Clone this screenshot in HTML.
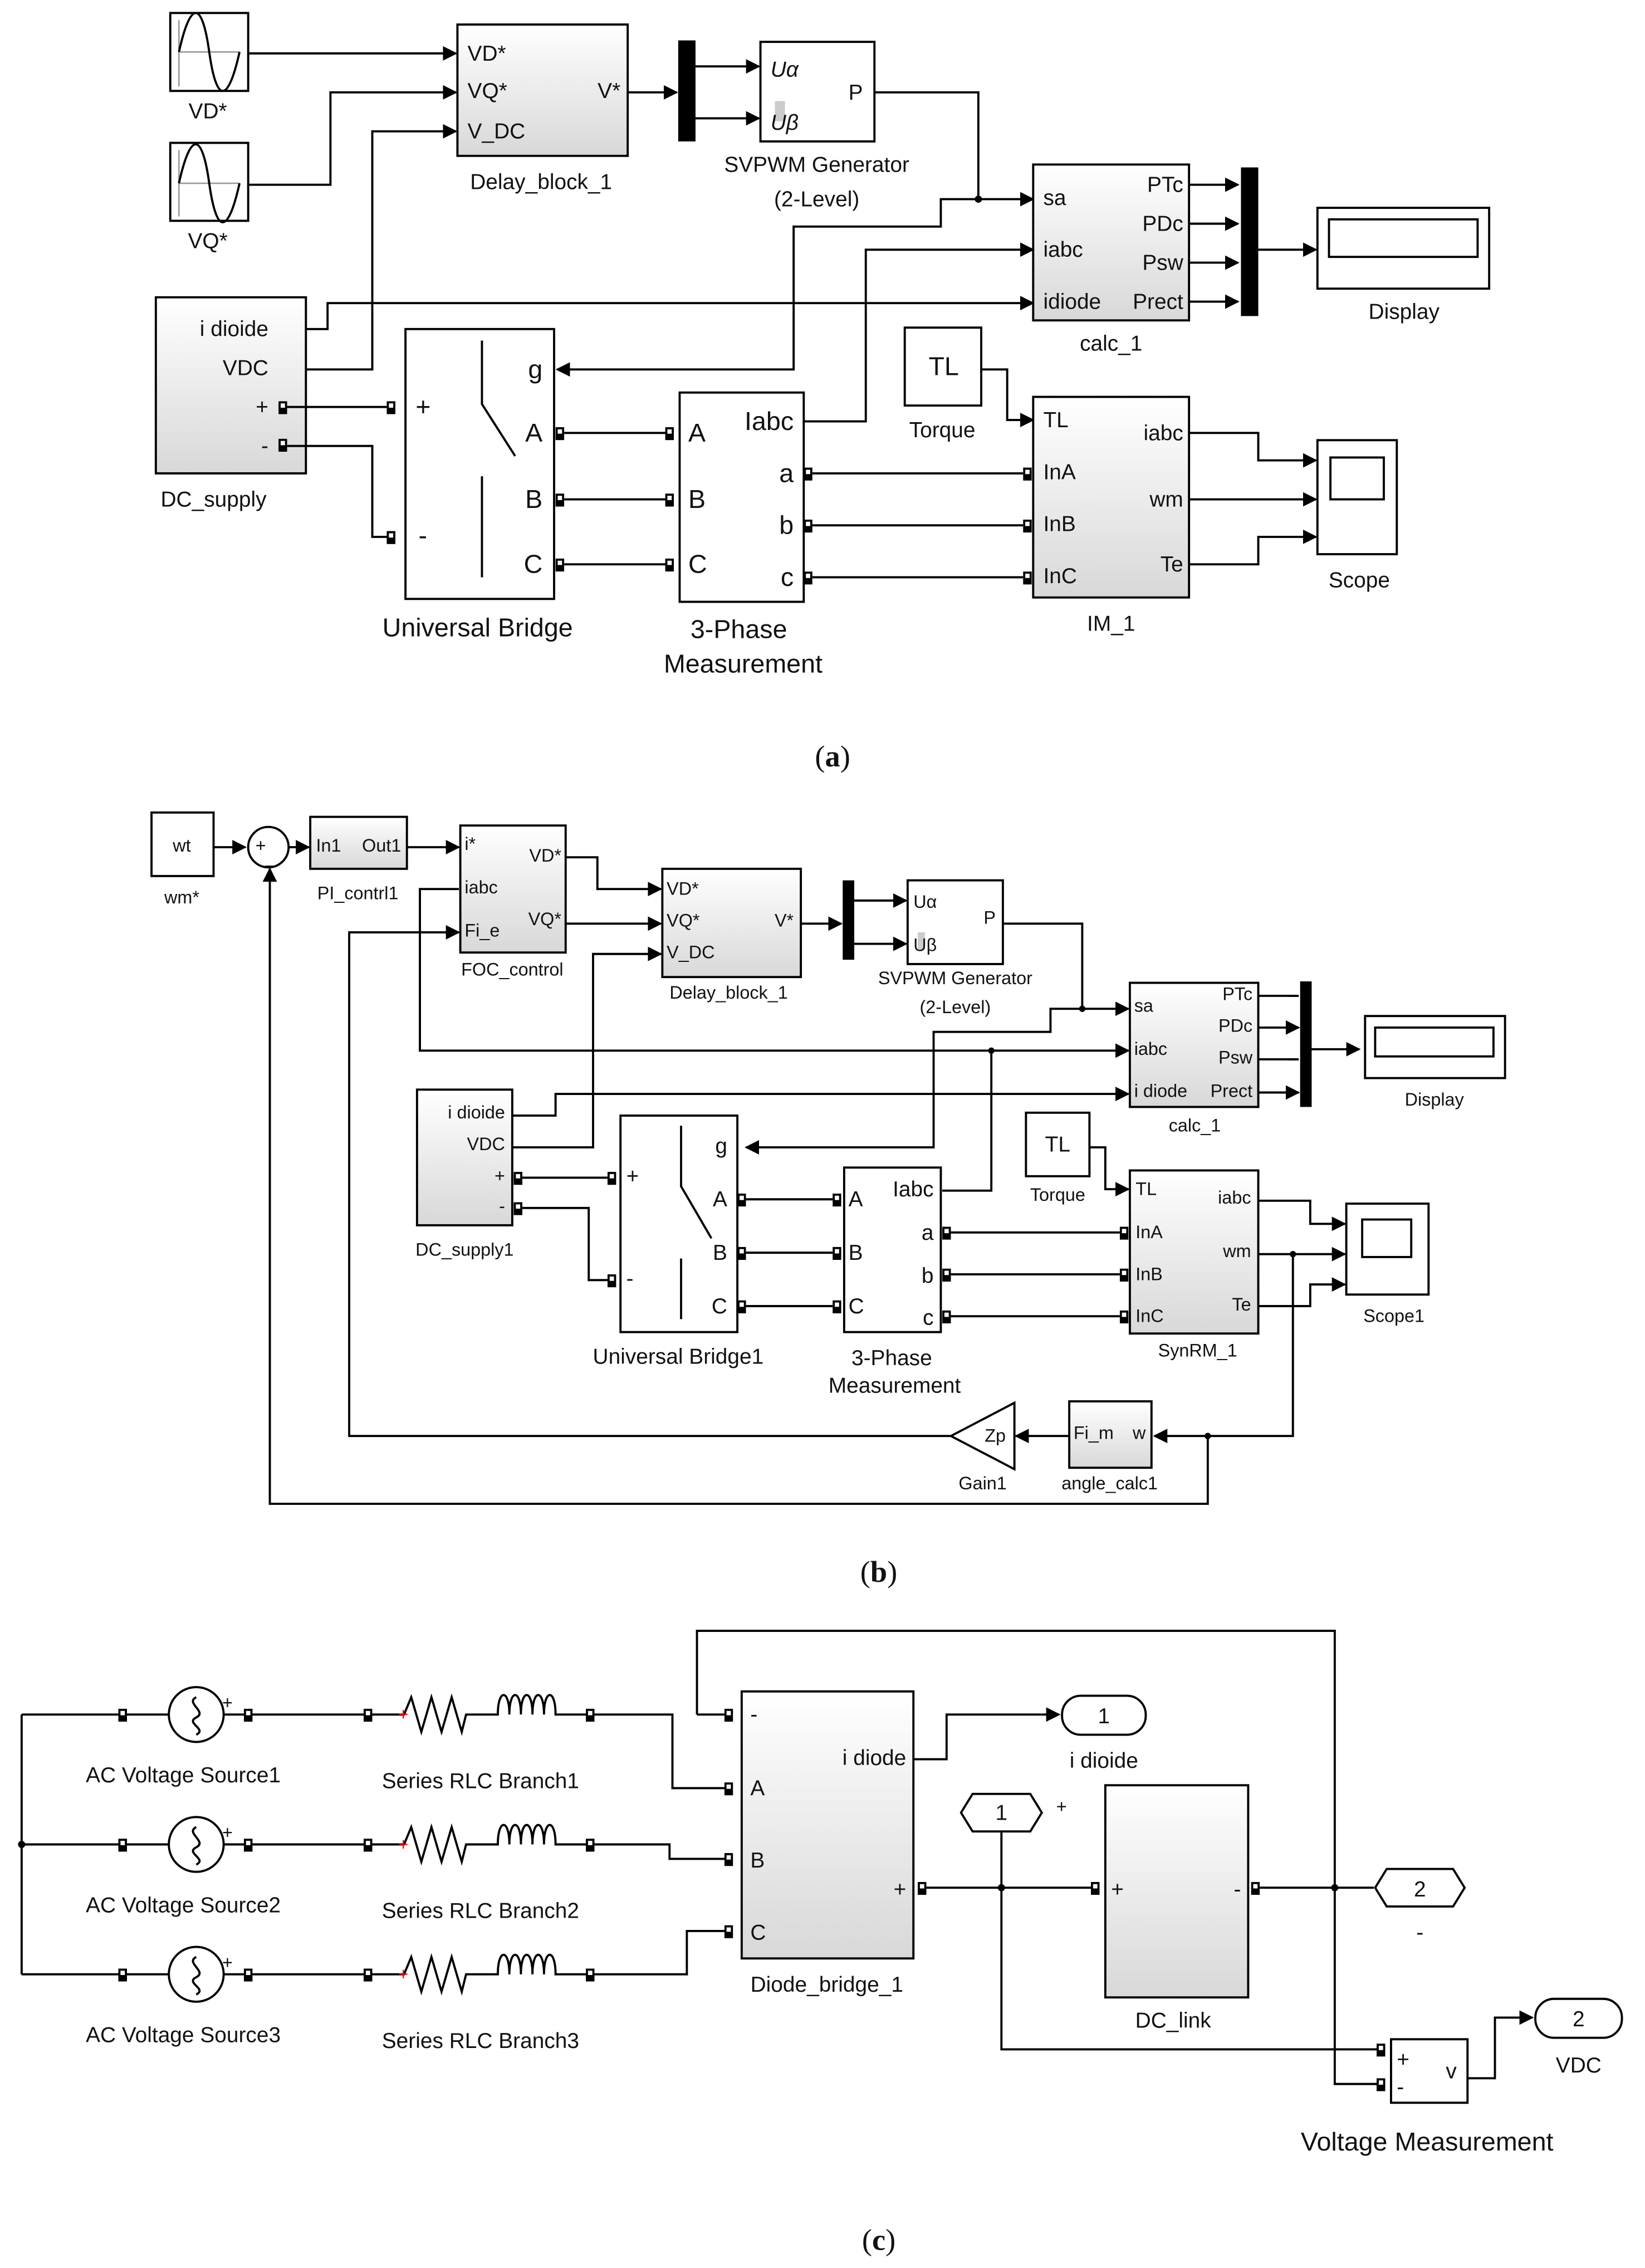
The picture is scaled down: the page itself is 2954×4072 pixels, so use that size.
<!DOCTYPE html>
<html><head><meta charset="utf-8">
<style>
html,body{margin:0;padding:0;background:#fff;}
svg{display:block;}
text{font-family:"Liberation Sans",sans-serif;fill:#111;}
.b{fill:url(#g);stroke:#000;stroke-width:1.5;}
.w{fill:#fff;stroke:#000;stroke-width:1.5;}
.l{fill:none;stroke:#000;stroke-width:1.5;}
.a{fill:none;stroke:#000;stroke-width:1.5;marker-end:url(#ar);}
.t{font-size:15px;}
.s{font-size:12.5px;}
.m{font-size:18px;}
</style></head>
<body>
<svg width="2954" height="4072" viewBox="0 0 1140 1571.5" preserveAspectRatio="none" xmlns="http://www.w3.org/2000/svg">
<defs>
<linearGradient id="g" x1="0" y1="0" x2="0" y2="1"><stop offset="0" stop-color="#ffffff"/><stop offset="1" stop-color="#d8d8d8"/></linearGradient>
<marker id="ar" markerWidth="10" markerHeight="10" refX="9" refY="5" orient="auto" markerUnits="userSpaceOnUse"><path d="M0,0 L10,5 L0,10 z" fill="#000"/></marker>
<symbol id="p" viewBox="0 0 6 9" width="6" height="9"><rect x="0" y="0" width="6" height="9" fill="#000"/><rect x="1.5" y="1.5" width="3" height="3" fill="#fff"/></symbol>
</defs>
<rect width="1140" height="1571.5" fill="#fff"/>

<!-- ================= (a) ================= -->
<rect x="118" y="9" width="54" height="54" class="w"/>
<path d="M124,36 H166 M124,14 V60" stroke="#999" stroke-width="1" fill="none"/>
<path d="M124,36 C132,0 140,0 145,36 C150,72 158,72 166,36" class="l"/>
<text x="144" y="82" class="t" text-anchor="middle">VD*</text>
<rect x="118" y="99" width="54" height="54" class="w"/>
<path d="M124,127 H166 M124,104 V150" stroke="#999" stroke-width="1" fill="none"/>
<path d="M124,127 C132,91 140,91 145,127 C150,163 158,163 166,127" class="l"/>
<text x="144" y="172" class="t" text-anchor="middle">VQ*</text>

<rect x="317" y="17" width="118" height="91" class="b"/>
<text x="324" y="42" class="t">VD*</text><text x="324" y="68" class="t">VQ*</text><text x="324" y="96" class="t">V_DC</text>
<text x="430" y="68" class="t" text-anchor="end">V*</text>
<text x="375" y="131" class="t" text-anchor="middle">Delay_block_1</text>
<path d="M172,37 H316" class="a"/>
<path d="M172,128 H229 V64 H316" class="a"/>
<path d="M187,256 H258 V91 H316" class="a"/>

<rect x="470" y="28" width="12" height="70" fill="#000"/>
<path d="M435,64 H469" class="a"/>
<path d="M482,46 H526" class="a"/><path d="M482,82 H526" class="a"/>
<rect x="527" y="29" width="79" height="69" class="w"/>
<text x="534" y="53" class="t" font-style="italic">Uα</text>
<rect x="537" y="70" width="7" height="14" fill="#ccc"/>
<text x="534" y="90" class="t" font-style="italic">Uβ</text>
<text x="598" y="69" class="t" text-anchor="end">P</text>
<text x="566" y="119" class="t" text-anchor="middle">SVPWM Generator</text>
<text x="566" y="143" class="t" text-anchor="middle">(2-Level)</text>
<path d="M606,64 H678 V138 H716" class="a"/>
<circle cx="678" cy="138" r="2.5"/>
<path d="M678,138 H652 V157 H550 V256 H386" class="a"/>

<rect x="716" y="114" width="108" height="108" class="b"/>
<text x="723" y="142" class="t">sa</text><text x="723" y="178" class="t">iabc</text><text x="723" y="214" class="t">idiode</text>
<text x="820" y="133" class="t" text-anchor="end">PTc</text><text x="820" y="160" class="t" text-anchor="end">PDc</text>
<text x="820" y="187" class="t" text-anchor="end">Psw</text><text x="820" y="214" class="t" text-anchor="end">Prect</text>
<text x="770" y="243" class="t" text-anchor="middle">calc_1</text>
<path d="M824,128 H858" class="a"/><path d="M824,155 H858" class="a"/><path d="M824,182 H858" class="a"/><path d="M824,209 H858" class="a"/>
<rect x="860" y="116" width="12" height="103" fill="#000"/>
<path d="M872,173 H912" class="a"/>
<rect x="913" y="144" width="119" height="56" class="w"/>
<rect x="921" y="152" width="103" height="26" class="w"/>
<text x="973" y="221" class="t" text-anchor="middle">Display</text>

<rect x="108" y="206" width="104" height="122" class="b"/>
<text x="186" y="233" class="t" text-anchor="end">i dioide</text>
<text x="186" y="260" class="t" text-anchor="end">VDC</text>
<text x="186" y="287" class="t" text-anchor="end">+</text>
<text x="186" y="314" class="t" text-anchor="end">-</text>
<text x="148" y="351" class="t" text-anchor="middle">DC_supply</text>
<path d="M212,228 H227 V210 H716" class="a"/>
<use href="#p" x="193" y="278"/><use href="#p" x="193" y="304"/>

<rect x="281" y="228" width="103" height="187" class="w"/>
<text x="288" y="288" class="m">+</text><text x="290" y="377" class="m">-</text>
<text x="376" y="262" class="m" text-anchor="end">g</text>
<text x="376" y="306" class="m" text-anchor="end">A</text>
<text x="376" y="352" class="m" text-anchor="end">B</text>
<text x="376" y="397" class="m" text-anchor="end">C</text>
<path d="M334,236 V280 L357,316 M334,330 V400" class="l"/>
<text x="331" y="441" class="m" text-anchor="middle">Universal Bridge</text>
<use href="#p" x="268" y="278"/><use href="#p" x="268" y="368"/>
<path d="M199,282 H268" class="l"/>
<path d="M199,309 H258 V372 H268" class="l"/>
<use href="#p" x="385" y="296"/><use href="#p" x="385" y="342"/><use href="#p" x="385" y="387"/>
<use href="#p" x="461" y="296"/><use href="#p" x="461" y="342"/><use href="#p" x="461" y="387"/>
<path d="M391,300 H461 M391,346 H461 M391,391 H461" class="l"/>

<rect x="471" y="272" width="86" height="145" class="w"/>
<text x="477" y="306" class="m">A</text><text x="477" y="352" class="m">B</text><text x="477" y="397" class="m">C</text>
<text x="550" y="298" class="m" text-anchor="end">Iabc</text>
<text x="550" y="334" class="m" text-anchor="end">a</text>
<text x="550" y="370" class="m" text-anchor="end">b</text>
<text x="550" y="406" class="m" text-anchor="end">c</text>
<text x="512" y="442" class="m" text-anchor="middle">3-Phase</text>
<text x="515" y="466" class="m" text-anchor="middle">Measurement</text>
<path d="M557,292 H600 V173 H716" class="a"/>
<use href="#p" x="557" y="324"/><use href="#p" x="557" y="360"/><use href="#p" x="557" y="396"/>
<use href="#p" x="709" y="324"/><use href="#p" x="709" y="360"/><use href="#p" x="709" y="396"/>
<path d="M563,328 H709 M563,364 H709 M563,400 H709" class="l"/>

<rect x="627" y="227" width="53" height="54" class="w"/>
<text x="654" y="260" class="m" text-anchor="middle">TL</text>
<text x="653" y="303" class="t" text-anchor="middle">Torque</text>
<path d="M680,256 H698 V291 H716" class="a"/>

<rect x="716" y="275" width="108" height="139" class="b"/>
<text x="723" y="296" class="t">TL</text><text x="723" y="332" class="t">InA</text>
<text x="723" y="368" class="t">InB</text><text x="723" y="404" class="t">InC</text>
<text x="820" y="305" class="t" text-anchor="end">iabc</text>
<text x="820" y="351" class="t" text-anchor="end">wm</text>
<text x="820" y="396" class="t" text-anchor="end">Te</text>
<text x="770" y="437" class="t" text-anchor="middle">IM_1</text>
<path d="M824,300 H872 V319 H912" class="a"/>
<path d="M824,346 H912" class="a"/>
<path d="M824,391 H872 V372 H912" class="a"/>
<rect x="913" y="305" width="55" height="79" class="w"/>
<rect x="922" y="317" width="37" height="29" class="w"/>
<text x="942" y="407" class="t" text-anchor="middle">Scope</text>

<text x="577" y="531" font-family="Liberation Serif" font-size="21" text-anchor="middle" style="font-family:'Liberation Serif',serif">(<tspan font-weight="bold">a</tspan>)</text>

<!-- ================= (b) ================= -->
<rect x="105" y="563" width="43" height="44" class="w"/>
<text x="126" y="590" class="s" text-anchor="middle">wt</text>
<text x="126" y="626" class="s" text-anchor="middle">wm*</text>
<path d="M148,587 H170" class="a"/>
<circle cx="186" cy="587" r="14" class="w"/>
<text x="177" y="590" class="s">+</text><text x="184" y="598" class="s">_</text>
<path d="M200,587 H214" class="a"/>
<rect x="215" y="566" width="67" height="36" class="b"/>
<text x="219" y="590" class="s">In1</text><text x="278" y="590" class="s" text-anchor="end">Out1</text>
<text x="248" y="623" class="s" text-anchor="middle">PI_contrl1</text>
<path d="M282,587 H318" class="a"/>

<rect x="319" y="572" width="73" height="88" class="b"/>
<text x="322" y="589" class="s">i*</text><text x="322" y="619" class="s">iabc</text><text x="322" y="649" class="s">Fi_e</text>
<text x="389" y="597" class="s" text-anchor="end">VD*</text><text x="389" y="641" class="s" text-anchor="end">VQ*</text>
<text x="355" y="676" class="s" text-anchor="middle">FOC_control</text>
<path d="M392,594 H414 V616 H458" class="a"/>
<path d="M392,640 H458" class="a"/>
<rect x="459" y="602" width="96" height="75" class="b"/>
<text x="462" y="620" class="s">VD*</text><text x="462" y="642" class="s">VQ*</text><text x="462" y="664" class="s">V_DC</text>
<text x="550" y="642" class="s" text-anchor="end">V*</text>
<text x="505" y="692" class="s" text-anchor="middle">Delay_block_1</text>
<rect x="584" y="610" width="8" height="55" fill="#000"/>
<path d="M555,640 H583" class="a"/>
<path d="M592,624 H628" class="a"/><path d="M592,654 H628" class="a"/>
<rect x="629" y="610" width="66" height="58" class="w"/>
<text x="633" y="629" class="s">Uα</text>
<rect x="636" y="646" width="5" height="12" fill="#ccc"/>
<text x="633" y="659" class="s">Uβ</text>
<text x="690" y="640" class="s" text-anchor="end">P</text>
<text x="662" y="682" class="s" text-anchor="middle">SVPWM Generator</text>
<text x="662" y="702" class="s" text-anchor="middle">(2-Level)</text>
<path d="M695,640 H750 V699 H782" class="a"/>
<circle cx="750" cy="699" r="2.2"/>
<path d="M750,699 H728 V715 H647 V795 H517" class="a"/>

<rect x="783" y="681" width="89" height="86" class="b"/>
<text x="786" y="701" class="s">sa</text><text x="786" y="731" class="s">iabc</text><text x="786" y="760" class="s">i diode</text>
<text x="868" y="693" class="s" text-anchor="end">PTc</text><text x="868" y="715" class="s" text-anchor="end">PDc</text>
<text x="868" y="737" class="s" text-anchor="end">Psw</text><text x="868" y="760" class="s" text-anchor="end">Prect</text>
<text x="828" y="784" class="s" text-anchor="middle">calc_1</text>
<path d="M872,690 H900 M872,712 H900 M872,734 H900 M872,757 H900" class="l"/>
<path d="M893,690 H900 M893,712 H900" class="a"/><path d="M893,734 H900 M893,757 H900" class="a"/>
<rect x="901" y="680" width="8" height="87" fill="#000"/>
<path d="M909,727 H942" class="a"/>
<rect x="946" y="704" width="97" height="43" class="w"/>
<rect x="953" y="712" width="82" height="20" class="w"/>
<text x="994" y="766" class="s" text-anchor="middle">Display</text>

<path d="M318,616 H291 V728 H782" class="a"/>
<circle cx="687" cy="728" r="2.2"/>
<path d="M653,825 H687 V728" class="l"/>

<rect x="289" y="755" width="66" height="94" class="b"/>
<text x="350" y="775" class="s" text-anchor="end">i dioide</text>
<text x="350" y="797" class="s" text-anchor="end">VDC</text>
<text x="350" y="819" class="s" text-anchor="end">+</text>
<text x="350" y="840" class="s" text-anchor="end">-</text>
<text x="322" y="870" class="s" text-anchor="middle">DC_supply1</text>
<path d="M355,773 H385 V758 H782" class="a"/>
<path d="M355,795 H411 V661 H458" class="a"/>
<use href="#p" x="356" y="812"/><use href="#p" x="356" y="833"/>
<path d="M362,816 H424 M362,837 H408 V887 H424" class="l"/>
<use href="#p" x="421" y="812"/><use href="#p" x="421" y="883"/>

<rect x="430" y="773" width="81" height="150" class="w"/>
<text x="434" y="820" class="t">+</text><text x="434" y="891" class="t">-</text>
<text x="504" y="799" class="t" text-anchor="end">g</text>
<text x="504" y="836" class="t" text-anchor="end">A</text>
<text x="504" y="873" class="t" text-anchor="end">B</text>
<text x="504" y="910" class="t" text-anchor="end">C</text>
<path d="M472,780 V822 L493,858 M472,872 V914" class="l"/>
<text x="470" y="945" class="t" text-anchor="middle">Universal Bridge1</text>
<use href="#p" x="511" y="827"/><use href="#p" x="511" y="864"/><use href="#p" x="511" y="901"/>
<use href="#p" x="577" y="827"/><use href="#p" x="577" y="864"/><use href="#p" x="577" y="901"/>
<path d="M517,831 H577 M517,868 H577 M517,905 H577" class="l"/>

<rect x="585" y="809" width="67" height="114" class="w"/>
<text x="588" y="836" class="t">A</text><text x="588" y="873" class="t">B</text><text x="588" y="910" class="t">C</text>
<text x="647" y="829" class="t" text-anchor="end">Iabc</text>
<text x="647" y="859" class="t" text-anchor="end">a</text>
<text x="647" y="889" class="t" text-anchor="end">b</text>
<text x="647" y="918" class="t" text-anchor="end">c</text>
<text x="618" y="946" class="t" text-anchor="middle">3-Phase</text>
<text x="620" y="965" class="t" text-anchor="middle">Measurement</text>
<use href="#p" x="653" y="850"/><use href="#p" x="653" y="879"/><use href="#p" x="653" y="908"/>
<use href="#p" x="776" y="850"/><use href="#p" x="776" y="879"/><use href="#p" x="776" y="908"/>
<path d="M659,854 H776 M659,883 H776 M659,912 H776" class="l"/>

<rect x="711" y="771" width="44" height="44" class="w"/>
<text x="733" y="798" class="t" text-anchor="middle">TL</text>
<text x="733" y="832" class="s" text-anchor="middle">Torque</text>
<path d="M755,795 H766 V824 H782" class="a"/>
<rect x="783" y="811" width="89" height="113" class="b"/>
<text x="787" y="828" class="s">TL</text><text x="787" y="858" class="s">InA</text>
<text x="787" y="887" class="s">InB</text><text x="787" y="916" class="s">InC</text>
<text x="867" y="834" class="s" text-anchor="end">iabc</text>
<text x="867" y="871" class="s" text-anchor="end">wm</text>
<text x="867" y="908" class="s" text-anchor="end">Te</text>
<text x="830" y="940" class="s" text-anchor="middle">SynRM_1</text>
<path d="M872,832 H908 V848 H932" class="a"/>
<path d="M872,869 H932" class="a"/>
<path d="M872,905 H908 V890 H932" class="a"/>
<circle cx="896" cy="869" r="2.2"/>
<path d="M896,869 V995 H800" class="a"/>
<rect x="933" y="834" width="57" height="63" class="w"/>
<rect x="944" y="845" width="34" height="26" class="w"/>
<text x="966" y="916" class="s" text-anchor="middle">Scope1</text>

<rect x="741" y="971" width="57" height="46" class="b"/>
<text x="744" y="997" class="s">Fi_m</text><text x="794" y="997" class="s" text-anchor="end">w</text>
<text x="769" y="1032" class="s" text-anchor="middle">angle_calc1</text>
<path d="M741,995 H704" class="a"/>
<path d="M703,972 L703,1018 L659,995 Z" class="w"/>
<text x="697" y="999" class="s" text-anchor="end">Zp</text>
<text x="681" y="1032" class="s" text-anchor="middle">Gain1</text>
<path d="M659,995 H242 V646 H318" class="a"/>
<circle cx="837" cy="995" r="2.2"/>
<path d="M837,995 V1042 H187 V602" class="a"/>

<text x="609" y="1096" font-size="21" text-anchor="middle" style="font-family:'Liberation Serif',serif">(<tspan font-weight="bold">b</tspan>)</text>

<!-- ================= (c) ================= -->
<path d="M483,1188 V1130 H925 V1309" class="l"/>
<path d="M483,1188 H506" class="l"/>
<path d="M15,1188 V1368" class="l"/>
<circle cx="15" cy="1278" r="2.5"/>
<g id="row1">
<path d="M15,1188 H82" class="l"/>
<use href="#p" x="82" y="1184"/>
<circle cx="136" cy="1188" r="19" class="w"/>
<path d="M136,1176 C128,1180 144,1186 136,1190 C128,1194 144,1198 136,1202" class="l" stroke-width="1.2"/>
<text x="154" y="1184" class="s">+</text>
<use href="#p" x="169" y="1184"/>
<path d="M88,1188 H117 M155,1188 H169 M175,1188 H252" class="l"/>
<use href="#p" x="252" y="1184"/>
<path d="M258,1188 H280 L285,1176 L292,1200 L299,1176 L306,1200 L313,1176 L320,1200 L323,1188 H345 C345,1170 353,1170 353,1188 C353,1170 361,1170 361,1188 C361,1170 369,1170 369,1188 C369,1170 377,1170 377,1188 C377,1170 385,1170 385,1188 H408" class="l"/>
<text x="276" y="1192" font-size="12" fill="#e00" style="fill:#e00">+</text>
<use href="#p" x="406" y="1184"/>
</g>
<use href="#row1" y="90"/>
<use href="#row1" y="180"/>
<text x="127" y="1235" class="t" text-anchor="middle">AC Voltage Source1</text>
<text x="127" y="1325" class="t" text-anchor="middle">AC Voltage Source2</text>
<text x="127" y="1415" class="t" text-anchor="middle">AC Voltage Source3</text>
<text x="333" y="1239" class="t" text-anchor="middle">Series RLC Branch1</text>
<text x="333" y="1329" class="t" text-anchor="middle">Series RLC Branch2</text>
<text x="333" y="1419" class="t" text-anchor="middle">Series RLC Branch3</text>
<path d="M412,1188 H466 V1239 H506" class="l"/>
<path d="M412,1278 H464 V1288 H506" class="l"/>
<path d="M412,1368 H476 V1338 H506" class="l"/>
<use href="#p" x="502" y="1184"/><use href="#p" x="502" y="1235"/><use href="#p" x="502" y="1284"/><use href="#p" x="502" y="1334"/>

<rect x="514" y="1172" width="119" height="185" class="b"/>
<text x="520" y="1193" class="t">-</text>
<text x="520" y="1244" class="t">A</text><text x="520" y="1294" class="t">B</text><text x="520" y="1344" class="t">C</text>
<text x="628" y="1223" class="t" text-anchor="end">i diode</text>
<text x="628" y="1314" class="t" text-anchor="end">+</text>
<text x="573" y="1380" class="t" text-anchor="middle">Diode_bridge_1</text>
<path d="M633,1219 H656 V1188 H734" class="a"/>
<rect x="736" y="1175" width="58" height="27" rx="13" class="w"/>
<text x="765" y="1194" class="t" text-anchor="middle">1</text>
<text x="765" y="1225" class="t" text-anchor="middle">i dioide</text>

<use href="#p" x="636" y="1304"/>
<path d="M642,1308 H756" class="l"/>
<circle cx="694" cy="1308" r="2.5"/>
<path d="M666,1256 L674,1243 H714 L722,1256 L714,1269 H674 Z" class="w"/>
<text x="694" y="1261" class="t" text-anchor="middle">1</text>
<text x="732" y="1256" class="s">+</text>
<path d="M694,1269 V1420 H956" class="l"/>
<use href="#p" x="756" y="1304"/>
<rect x="766" y="1237" width="99" height="147" class="b"/>
<text x="770" y="1314" class="t">+</text><text x="860" y="1314" class="t" text-anchor="end">-</text>
<text x="813" y="1405" class="t" text-anchor="middle">DC_link</text>
<use href="#p" x="867" y="1304"/>
<path d="M873,1308 H952" class="l"/>
<circle cx="925" cy="1308" r="2.5"/>
<path d="M953,1308 L961,1295 H1007 L1015,1308 L1007,1321 H961 Z" class="w"/>
<text x="984" y="1314" class="t" text-anchor="middle">2</text>
<text x="984" y="1344" class="t" text-anchor="middle">-</text>
<path d="M925,1308 V1444 H956" class="l"/>
<use href="#p" x="954" y="1416"/><use href="#p" x="954" y="1440"/>
<rect x="964" y="1413" width="53" height="44" class="w"/>
<text x="968" y="1432" class="t">+</text><text x="968" y="1451" class="t">-</text>
<text x="1002" y="1440" class="t">v</text>
<path d="M1017,1440 H1036 V1398 H1062" class="a"/>
<rect x="1064" y="1385" width="60" height="27" rx="13" class="w"/>
<text x="1094" y="1404" class="t" text-anchor="middle">2</text>
<text x="1094" y="1436" class="t" text-anchor="middle">VDC</text>
<text x="989" y="1490" class="m" text-anchor="middle">Voltage Measurement</text>

<text x="609" y="1559" font-size="21" text-anchor="middle" style="font-family:'Liberation Serif',serif">(<tspan font-weight="bold">c</tspan>)</text>
</svg>
</body></html>
